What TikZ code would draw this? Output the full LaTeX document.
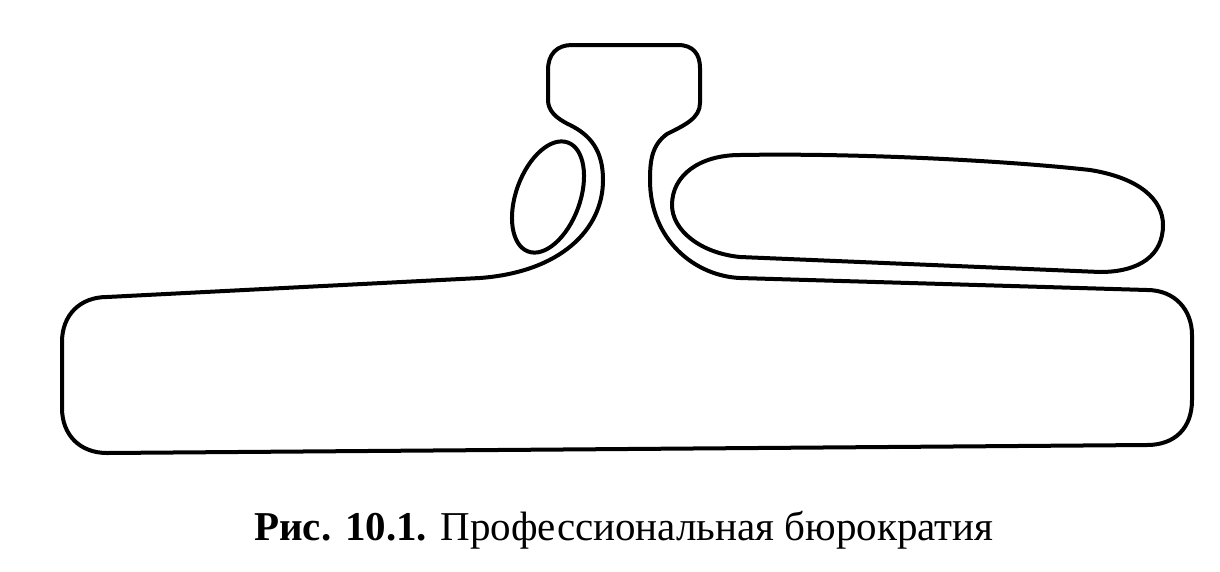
\documentclass[tikz,border=0pt]{standalone}
\usepackage{fontspec}
\setmainfont{Liberation Serif}
\begin{document}
\begin{tikzpicture}[x=1pt,y=-1pt,
  outline/.style={draw=black,line width=4pt,line join=round}]
\useasboundingbox (0,0) rectangle (1220,571);
% main outline: strategic apex, neck and operating core
\draw[outline] (572,45) -- (678,45) .. controls (693,45) and (700,54) .. (700,68)
  -- (700,103) .. controls (700,118) and (685,125) .. (667,134)
  .. controls (652,145) and (650,160) .. (650,180)
  .. controls (650,240) and (695,276) .. (740,278)
  -- (1147,290) .. controls (1175,290) and (1192,310) .. (1192,335)
  -- (1192,400) .. controls (1192,428) and (1175,445) .. (1147,445)
  -- (107,453) .. controls (80,453) and (62,435) .. (62,408)
  -- (62,342) .. controls (62,315) and (80,297) .. (107,297)
  -- (480,278) .. controls (560,272) and (603,230) .. (603,180)
  .. controls (603,150) and (590,135) .. (570,125)
  .. controls (555,118) and (548,110) .. (548,100)
  -- (548,70) .. controls (548,54) and (557,45) .. (572,45) -- cycle;
% technostructure
\draw[outline, rotate around={70:(548,197)}] (548,197) ellipse [x radius=58, y radius=32];
% support staff
\draw[outline] (740,155) .. controls (850,153) and (1000,160) .. (1090,170)
  .. controls (1140,178) and (1163,200) .. (1163,225)
  .. controls (1163,255) and (1140,272) .. (1100,272)
  -- (740,257) .. controls (700,253) and (672,230) .. (672,205)
  .. controls (672,175) and (700,155) .. (740,155) -- cycle;
\node[anchor=base, inner sep=0pt, font=\fontsize{41}{48}\selectfont] (cap) at (624,540)
  {\textbf{Рис. 10.1.} Профессиональная бюрократия};
\end{tikzpicture}
\end{document}
